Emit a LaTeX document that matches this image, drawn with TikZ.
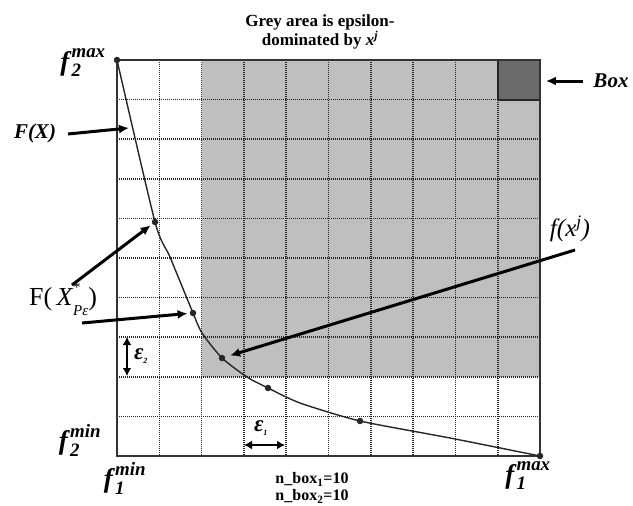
\documentclass[tikz,border=0pt]{standalone}
\usepackage{amsmath}
\usepackage{fontspec}
\setmainfont{Liberation Serif}
\usetikzlibrary{arrows.meta}
\tikzset{
  gridline/.style={draw=black!85, line width=1.6pt, dash pattern=on 1.2pt off 0.8pt},
  boxframe/.style={draw=black!80, line width=2pt},
  greyarea/.style={fill=black!25},
  darkbox/.style={rectangle, draw=black!85, fill=black!58, line width=1.8pt, minimum width=42.3pt, minimum height=39.6pt, inner sep=0pt},
  front/.style={draw=black!85, line width=1.4pt},
  solpoint/.style={circle, fill=black!85, minimum size=6.5pt, inner sep=0pt},
  arrow/.style={-{Latex[length=10pt,width=9pt]}, line width=3pt},
  epsarrow/.style={{Latex[length=8pt,width=9pt]}-{Latex[length=8pt,width=9pt]}, line width=2.6pt},
  boldlabel/.style={font=\fontsize{21}{23}\selectfont\bfseries\itshape, inner sep=0pt},
  axislabel/.style={font=\fontsize{27}{29}\selectfont, inner sep=0pt},
  plainlabel/.style={font=\fontsize{26}{28}\selectfont, inner sep=0pt},
  epslabel/.style={font=\fontsize{23}{23}\selectfont\bfseries\itshape, inner sep=0pt},
  note/.style={font=\fontsize{16}{17}\selectfont\bfseries, inner sep=0pt}
}
\newcommand{\fbound}[3]{$\textbf{\textit{#1}}^{\textbf{\textit{#2}}}_{\textbf{\textit{#3}}}$}

\begin{document}
\begin{tikzpicture}[x=1pt,y=-1pt]
  \useasboundingbox (0,0) rectangle (633,506);
  \coordinate (ll) at (117,456);
  \coordinate (ur) at (540,60);
  \fill[greyarea] (201.6,60) rectangle (540,376.8);
  \node[darkbox] (box) at (518.85,79.8) {};
  \foreach \i in {1,...,9} {
    \draw[gridline] (117+\i*42.3,60) -- (117+\i*42.3,456);
    \draw[gridline] (117,60+\i*39.6) -- (540,60+\i*39.6);
  }
  \draw[boxframe] (ll) rectangle (ur);

  % Pareto front
  \coordinate (c0) at (117,60);
  \coordinate (c1) at (155,222);
  \coordinate (c2) at (193,313);
  \coordinate (c3) at (222,358);
  \coordinate (c4) at (268,388);
  \coordinate (c5) at (360,421);
  \coordinate (c6) at (540,456);
  \draw[front] plot[smooth, tension=0.4] coordinates {(c0) (c1) (170,257) (c2) (202,333) (c3) (247,377) (c4) (300,403) (c5) (450,438) (c6)};
  \foreach \k in {0,...,6}
    \node[solpoint] (d\k) at (c\k) {};

  % labels
  \node[font=\fontsize{17}{19}\selectfont\bfseries, align=center] (title) at (320,32)
    {Grey area is epsilon-\\dominated by \textit{x}\textsuperscript{\textit{j}}};
  \node[axislabel] (f2max) at (83,63) {\fbound{f}{max}{2}};
  \node[axislabel] (f2min) at (80,440) {\fbound{f}{min}{2}};
  \node[axislabel] (f1min) at (125,478) {\fbound{f}{min}{1}};
  \node[axislabel] (f1max) at (528,476) {\fbound{f}{max}{1}};
  \node[boldlabel] (FX) at (35,133) {F(X)};
  \node[plainlabel] (FXP) at (63,299) {F(\,\textit{X}\makebox[0pt][l]{\raisebox{0.5em}{\fontsize{15}{15}\selectfont *}}\raisebox{-0.4em}{\fontsize{15}{15}\selectfont\textit{Pε}})};
  \node[plainlabel, font=\fontsize{25}{27}\selectfont\itshape] (fxj) at (570,229) {f(x\textsuperscript{j})};
  \node[boldlabel] (boxlab) at (611,81) {Box};
  \node[epslabel] (eps2) at (141,356) {ε\textsubscript{\fontsize{8}{8}\selectfont 2}};
  \node[epslabel] (eps1) at (261,428) {ε\textsubscript{\fontsize{8}{8}\selectfont 1}};
  \node[note, align=left] (nbox) at (312,488) {n\_box\textsubscript{1}=10\\n\_box\textsubscript{2}=10};

  % arrows
  \coordinate (fxs) at (68,134);
  \coordinate (fxt) at (129,128);
  \coordinate (ps1) at (72,285);
  \coordinate (ps2) at (82,323);
  \coordinate (fjs) at (575,250);
  \coordinate (bxs) at (583,81);
  \draw[arrow] (fxs) -- (fxt);
  \draw[arrow, shorten >=2pt] (ps1) -- (d1);
  \draw[arrow, shorten >=2pt] (ps2) -- (d2);
  \draw[arrow, shorten >=5pt] (fjs) -- (d3);
  \draw[arrow, shorten >=5pt] (bxs) -- (box.east |- bxs);
  \coordinate (e2a) at (127,337);
  \coordinate (e2b) at (127,376);
  \coordinate (e1a) at (244,445);
  \coordinate (e1b) at (285,445);
  \draw[epsarrow] (e2a) -- (e2b);
  \draw[epsarrow] (e1a) -- (e1b);
\end{tikzpicture}
\end{document}
